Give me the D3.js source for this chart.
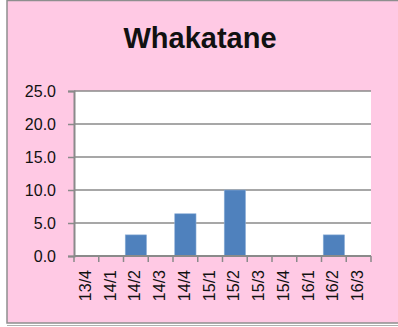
<!DOCTYPE html>
<html>
<head>
<meta charset="utf-8">
<script src="https://cdn.jsdelivr.net/npm/d3@7/dist/d3.min.js"></script>
<style>
  html, body { margin: 0; padding: 0; background: #ffffff; }
  svg { display: block; }
</style>
</head>
<body>
<svg id="chart" width="398" height="327"></svg>
<script>
// Quarterly values for Whakatane
const chartTitle = "Whakatane";
const categories = ["13/4", "14/1", "14/2", "14/3", "14/4", "15/1", "15/2", "15/3", "15/4", "16/1", "16/2", "16/3"];
const values = [0, 0, 3.2, 0, 6.4, 0, 10.0, 0, 0, 0, 3.2, 0];
const yTicks = [0, 5, 10, 15, 20, 25];

const svg = d3.select("#chart");
const font = "'Liberation Sans', Arial, sans-serif";

// Outer chart frame (runs off the right edge)
svg.append("rect")
  .attr("x", 7).attr("y", 0.5).attr("width", 400).attr("height", 322.5)
  .attr("fill", "#ffc9e4").attr("stroke", "#8e8e8e").attr("stroke-width", 1.5);
svg.append("line")
  .attr("x1", 7).attr("x2", 398).attr("y1", 325.5).attr("y2", 325.5)
  .attr("stroke", "#b0b0b0").attr("stroke-width", 1);

// Title
svg.append("text")
  .attr("x", 200).attr("y", 48)
  .attr("text-anchor", "middle")
  .attr("font-family", font).attr("font-weight", "bold").attr("font-size", 29)
  .attr("fill", "#111")
  .text(chartTitle);

// Plot region
const plot = { left: 74, right: 371, top: 91, bottom: 256 };

const x = d3.scaleBand()
  .domain(categories)
  .range([plot.left, plot.right])
  .paddingInner(0.14)
  .paddingOuter(0.07);

const y = d3.scaleLinear()
  .domain([0, 25])
  .range([plot.bottom, plot.top]);

// Plot background
svg.append("rect")
  .attr("x", plot.left).attr("y", plot.top)
  .attr("width", plot.right - plot.left).attr("height", plot.bottom - plot.top)
  .attr("fill", "#ffffff");

// Horizontal gridlines
svg.append("g")
  .selectAll("line")
  .data(yTicks.filter(d => d > 0))
  .join("line")
  .attr("x1", plot.left).attr("x2", plot.right)
  .attr("y1", d => y(d)).attr("y2", d => y(d))
  .attr("stroke", "#8a8a8a").attr("stroke-width", 1.5);

// Bars
svg.append("g")
  .selectAll("rect")
  .data(categories.map((c, i) => ({ c, v: values[i] })).filter(d => d.v > 0))
  .join("rect")
  .attr("x", d => x(d.c))
  .attr("y", d => y(d.v))
  .attr("width", x.bandwidth())
  .attr("height", d => y(0) - y(d.v))
  .attr("fill", "#4f81bd")
  .attr("stroke", "#8fb0d8").attr("stroke-width", 0.6);

// Y axis
const yAxis = svg.append("g")
  .attr("transform", `translate(${plot.left},0)`)
  .call(d3.axisLeft(y).tickValues(yTicks).tickFormat(d3.format(".1f")).tickSize(6).tickPadding(12));
yAxis.select(".domain").attr("stroke", "#8a8a8a").attr("stroke-width", 2);
yAxis.selectAll(".tick line").attr("stroke", "#8a8a8a").attr("stroke-width", 1.5);
yAxis.selectAll(".tick text")
  .attr("font-family", font).attr("font-size", 16).attr("fill", "#111");

// X axis baseline and category boundary ticks
svg.append("line")
  .attr("x1", plot.left).attr("x2", plot.right)
  .attr("y1", y(0)).attr("y2", y(0))
  .attr("stroke", "#8a8a8a").attr("stroke-width", 2);

const boundaries = d3.range(categories.length + 1).map(i => plot.left + i * (plot.right - plot.left) / categories.length);
svg.append("g")
  .selectAll("line")
  .data(boundaries)
  .join("line")
  .attr("x1", d => d).attr("x2", d => d)
  .attr("y1", y(0)).attr("y2", y(0) + 6)
  .attr("stroke", "#8a8a8a").attr("stroke-width", 1.5);

// Rotated category labels
svg.append("g")
  .selectAll("text")
  .data(categories)
  .join("text")
  .attr("transform", d => `translate(${x(d) + x.bandwidth() / 2 - 1},${y(0) + 14}) rotate(-90)`)
  .attr("text-anchor", "end")
  .attr("dy", "0.35em")
  .attr("font-family", font).attr("font-size", 16).attr("fill", "#111")
  .text(d => d);
</script>
</body>
</html>
